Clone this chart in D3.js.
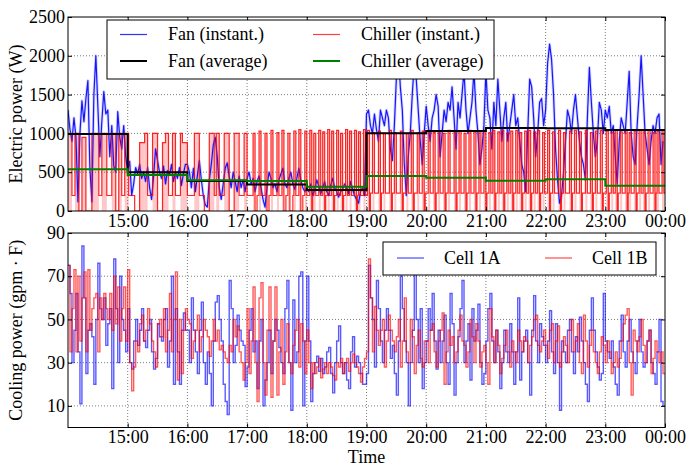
<!DOCTYPE html>
<html>
<head>
<meta charset="utf-8">
<script src="https://cdn.jsdelivr.net/npm/d3@7"></script>
<style>
  body { margin: 0; background: #fff; }
  svg text { font-family: "Liberation Serif", "Times New Roman", serif; fill: #000; }
</style>
</head>
<body>
<svg id="chart" width="691" height="466"></svg>
<script>
// ---------- data ----------
// Hour marks shown on the time axis (24 = midnight)
const tickHours = [15, 16, 17, 18, 19, 20, 21, 22, 23, 24];
const powerTicks = [0, 500, 1000, 1500, 2000, 2500];
const coolingTicks = [10, 30, 50, 70, 90];

// Sample spacing (minutes) of the instantaneous series, counted from 14:00
const sampleStep = 2;

// Fan instantaneous electric power (W), one value every 2 minutes
const fanInstant = [
  1300,1050,900,1200,950,120,1000,1420,1150,1450,1680,550,120,1500,2000,1350,700,1150,1540,1250,1300,700,1100,580,500,1280,950,800,1100,700,
  520,640,200,350,560,480,600,420,500,380,560,300,150,450,800,650,500,420,580,350,520,460,600,380,500,420,560,330,480,600,
  600,500,300,550,250,450,650,400,200,80,50,400,600,850,950,700,300,150,350,550,620,450,300,500,380,250,450,300,400,250,
  420,500,350,420,250,380,450,300,150,50,300,500,420,300,350,250,400,480,550,350,300,420,500,350,280,420,550,400,300,250,
  300,250,350,200,280,400,320,220,300,380,250,200,330,420,300,250,180,250,280,350,300,220,380,280,200,150,100,250,300,200,
  1250,1300,1100,1000,1250,1050,900,1300,1200,1100,1300,1200,800,650,1100,1700,2050,1600,1300,600,200,700,1000,1500,1900,1700,1300,900,600,1000,
  1350,1100,900,1200,1300,1500,1350,700,1000,1300,1150,1400,1300,1600,1200,800,1400,1200,1500,1800,1300,1000,1200,1400,1800,1300,1000,600,800,1100,
  1800,1300,1200,800,1400,1100,1700,1300,900,1200,1400,900,1100,1300,1500,1100,1200,900,600,500,250,1000,1700,1600,1200,700,1000,1400,1450,1100,
  1300,1900,2150,1950,1500,800,400,100,200,500,900,1300,1200,1000,1300,1500,1200,900,700,600,400,1200,1850,1400,1000,700,900,1400,1300,1000,
  1300,1200,1350,1000,1100,700,350,900,1200,1100,1000,1400,1800,1000,700,600,1100,1500,2000,1500,1000,800,600,900,1100,1000,1200,1250,600,900
];

// Chiller instantaneous power (W): [minute after 14:00, level held from that minute]
const chillerSteps = [
  [0,1000],[4,200],[7,1000],[11,0],[14,950],[18,0],[24,1000],[31,200],[34,1000],[39,200],[44,1000],[48,0],[51,1000],[54,200],[57,1000],
  [61,200],[67,0],[72,880],[77,1000],[80,200],[85,1000],[90,0],[95,880],[98,1000],[101,200],[105,1000],[108,200],[113,1000],[115,880],
  [120,200],[127,1000],[132,200],[137,0],[142,1000],[147,200],[149,1000],[152,200],[157,1000],[162,0],[167,1000],[172,200],[177,1000],
  [180,200],[186,1000],[188,0],[190,200],[192,1030],[194,200],[198,1000],[200,0],[202,200],[204,1040],[206,200],[210,1010],[212,200],[215,1040],[217,0],[219,200],[221,1000],[223,0],[226,200],[227,1030],[229,200],[232,1050],[234,0],[236,200],
  [238,1030],[240,200],[243,1040],[245,0],[246,200],[247,1000],[249,200],[252,1040],[254,200],[256,1020],[258,0],[259,200],[261,1050],[263,200],[265,1030],[267,0],[268,200],[270,1040],[272,200],[274,1000],[276,0],[277,200],[279,1050],[281,200],[283,1030],[285,200],[288,1040],[290,0],[291,200],[292,1020],[294,200],[297,1050],[299,200],
  [301,1040],[303,0],[304,230],[306,1010],[308,230],[312,1030],[314,0],[315,230],[317,1000],[319,230],[323,1040],[325,0],[326,230],[328,1010],[330,230],[334,1030],[336,0],[337,230],[340,1000],[342,230],[345,1040],[347,0],[348,230],[351,1010],[353,230],[356,1030],[358,0],[359,230],
  [362,1040],[364,230],[367,1010],[369,0],[370,230],[372,1030],[374,230],[377,1000],[379,0],[380,230],[382,1040],[384,230],[388,1010],[390,0],[391,230],[393,1030],[395,230],[398,1000],[400,0],[401,230],[403,1040],[405,230],[408,1020],[410,0],[411,230],[413,1030],[415,230],[418,1040],
  [420,0],[421,230],[423,1010],[425,230],[427,1040],[429,0],[430,230],[432,1020],[434,230],[436,1040],[438,0],[439,230],[441,1000],[443,230],[445,1030],[447,0],[448,230],[450,1040],[452,230],[454,1010],[456,0],[457,230],[459,1030],[461,230],[463,1040],[465,0],[466,230],[468,1020],[470,230],[472,1040],[474,0],[475,230],[477,1010],[479,230],
  [482,1040],[484,0],[485,230],[487,1020],[489,230],[493,1040],[495,0],[496,230],[498,1010],[500,230],[504,1030],[506,0],[507,230],[509,1040],[511,230],[514,1020],[516,0],[517,230],[520,1040],[522,230],[525,1010],[527,0],[528,230],[530,1030],[532,230],[535,1040],[537,0],[538,230],
  [541,1030],[543,0],[544,230],[546,1010],[548,230],[550,1040],[552,0],[553,230],[555,1020],[557,230],[560,1040],[562,0],[563,230],[564,1010],[566,230],[569,1030],[571,0],[572,230],[574,1040],[576,230],[578,1020],[580,0],[581,230],[583,1040],[585,230],[588,1010],[590,0],[591,230],[592,1030],[594,230],[597,1040],[599,230]
];

// Hourly averages (W), 14:00–15:00 through 23:00–24:00
const fanAverage = [992, 498, 385, 340, 271, 1001, 1031, 1068, 1065, 1043];
const chillerAverage = [537, 465, 395, 385, 313, 451, 430, 391, 408, 326];

// Cooling power (gpm · F), one value every 2 minutes
const cell1A = [
  75,62,30,45,62,35,11,84,60,25,45,48,42,20,50,76,55,50,60,38,48,55,18,78,55,30,70,50,45,35,
  55,30,27,40,50,38,45,55,40,37,45,50,35,27,32,48,42,40,50,55,28,40,70,20,55,35,20,45,53,45,
  45,30,60,45,35,25,45,58,30,20,35,25,10,40,58,61,50,40,20,12,6,68,55,30,38,52,45,40,38,19,
  28,45,55,35,40,18,40,50,10,22,30,45,25,40,50,45,37,30,25,55,68,30,8,59,30,35,70,72,10,40,
  70,40,12,25,30,33,26,32,25,28,35,37,25,16,30,40,47,30,25,30,22,18,35,42,28,33,30,25,20,20,
  25,75,60,50,28,68,55,40,30,45,55,45,32,38,25,15,40,70,55,40,30,10,30,45,72,50,30,55,18,30,
  40,55,45,62,40,27,45,30,40,52,30,20,62,48,15,30,42,55,68,30,40,48,22,55,40,45,57,30,20,25,
  40,55,62,40,30,45,35,18,30,45,35,30,48,35,20,35,60,22,35,40,45,30,15,45,61,40,30,48,42,38,
  30,40,54,35,25,48,30,8,40,35,30,45,50,35,25,42,35,51,40,30,20,12,45,60,45,35,28,22,25,62,
  40,35,32,40,28,20,15,40,52,35,28,40,50,35,30,25,40,50,35,28,30,40,45,30,25,20,35,50,12,10
];
const cell1B = [
  75,35,55,73,35,70,40,60,72,35,73,45,55,60,62,35,60,50,62,55,50,62,45,70,48,65,40,55,65,40,
  73,30,17,28,40,35,48,52,40,45,55,48,40,35,28,48,50,42,55,35,45,62,35,50,72,22,50,25,45,55,
  50,48,32,40,45,52,35,42,50,45,42,33,40,50,40,45,36,38,35,32,30,38,35,50,42,47,35,30,22,30,
  55,25,40,65,30,12,60,67,30,15,45,65,14,40,65,15,35,50,20,35,48,30,25,38,45,50,28,48,40,25,
  45,30,18,30,25,28,32,23,27,30,25,30,28,24,22,30,28,32,25,30,32,26,30,34,30,28,25,21,28,32,
  35,78,60,35,56,45,38,45,50,28,40,52,45,40,35,42,50,28,40,60,35,30,50,42,25,38,45,32,28,40,
  40,30,45,48,35,28,40,45,53,20,35,45,38,42,30,35,45,52,40,38,28,35,50,42,30,48,40,28,35,38,
  30,20,55,42,30,45,38,25,32,38,45,35,28,40,35,30,45,40,35,42,40,30,38,42,50,52,38,35,40,45,
  38,32,45,48,30,40,47,28,35,42,38,30,45,50,35,40,48,30,25,52,40,28,38,45,35,30,25,35,42,38,
  30,40,35,25,30,35,28,32,40,48,52,55,30,15,45,40,35,42,50,38,30,40,45,25,32,40,35,30,35,25
];

// ---------- scales ----------
const base = new Date(2000, 0, 1, 14, 0, 0);
const t = m => new Date(base.getTime() + m * 60000);
const END = 600;

const svg = d3.select("#chart");
const X0 = 68, X1 = 665;
const P1 = { top: 17, bottom: 211 };
const P2 = { top: 233, bottom: 427.5 };

const x = d3.scaleTime().domain([t(0), t(END)]).range([X0, X1]);
const yP = d3.scaleLinear().domain([0, 2500]).range([P1.bottom, P1.top]);
const yC = d3.scaleLinear().domain([0, 90]).range([P2.bottom, P2.top]);
const hourDates = tickHours.map(h => t((h - 14) * 60));
const fmt = d3.timeFormat("%H:%M");

const FONT = "Liberation Serif, Times New Roman, serif";
const C = {
  fan: "#0000ff", chiller: "#ff0000", fanAvg: "#000000", chillerAvg: "#008000",
  cellA: "#0000ff", cellB: "#ff0000"
};

// ---------- panel scaffolding ----------
function grid(p, y, yTicks) {
  const g = svg.append("g")
    .attr("stroke", "#333").attr("stroke-width", 0.8)
    .attr("stroke-dasharray", "1,2").attr("opacity", 0.8);
  g.selectAll(null).data(hourDates.slice(0, -1)).join("line")
    .attr("x1", d => x(d)).attr("x2", d => x(d))
    .attr("y1", p.top).attr("y2", p.bottom);
  g.selectAll(null).data(yTicks.filter(v => y(v) > p.top + 1 && y(v) < p.bottom - 1)).join("line")
    .attr("x1", X0).attr("x2", X1)
    .attr("y1", d => y(d)).attr("y2", d => y(d));
}

function axes(p, y, yTicks, pad) {
  const style = g => {
    g.select(".domain").remove();
    g.attr("font-family", FONT).attr("font-size", 18);
    g.selectAll("line").attr("stroke", "#000");
  };
  svg.append("g").attr("transform", `translate(0,${p.bottom})`)
    .call(d3.axisBottom(x).tickValues(hourDates).tickFormat(fmt).tickSize(-4).tickPadding(pad))
    .call(style);
  svg.append("g").attr("transform", `translate(0,${p.top})`)
    .call(d3.axisTop(x).tickValues(hourDates).tickFormat("").tickSize(-4))
    .call(style);
  svg.append("g").attr("transform", `translate(${X0},0)`)
    .call(d3.axisLeft(y).tickValues(yTicks).tickFormat(d3.format("d")).tickSize(-4).tickPadding(3))
    .call(style);
  svg.append("g").attr("transform", `translate(${X1},0)`)
    .call(d3.axisRight(y).tickValues(yTicks).tickFormat("").tickSize(-4))
    .call(style);
  svg.append("rect")
    .attr("x", X0).attr("y", p.top)
    .attr("width", X1 - X0).attr("height", p.bottom - p.top)
    .attr("fill", "none").attr("stroke", "#000").attr("stroke-width", 1);
}

function clip(id, p) {
  svg.append("clipPath").attr("id", id).append("rect")
    .attr("x", X0).attr("y", p.top)
    .attr("width", X1 - X0).attr("height", p.bottom - p.top);
  return svg.append("g").attr("clip-path", `url(#${id})`);
}

// ---------- top panel: electric power ----------
grid(P1, yP, powerTicks);
const topG = clip("clipTop", P1);

const fanPts = fanInstant.map((v, i) => [t(i * sampleStep), v]);
const lineP = d3.line().x(d => x(d[0])).y(d => yP(d[1]));

// chiller on-periods: light fill between the rising and falling edges
const chillerSeg = chillerSteps.map((s, i) => ({
  start: s[0],
  end: i + 1 < chillerSteps.length ? chillerSteps[i + 1][0] : END,
  w: s[1]
}));
topG.append("g").selectAll("rect")
  .data(chillerSeg.filter(s => s.w >= 800))
  .join("rect")
  .attr("x", d => x(t(d.start)))
  .attr("width", d => x(t(d.end)) - x(t(d.start)))
  .attr("y", d => yP(d.w))
  .attr("height", d => yP(0) - yP(d.w))
  .attr("fill", "#ff0000").attr("opacity", 0.22);

// fan instantaneous (soft halo + line)
topG.append("path").datum(fanPts)
  .attr("d", lineP).attr("fill", "none")
  .attr("stroke", "#7777ff").attr("stroke-width", 3).attr("opacity", 0.3)
  .attr("stroke-linejoin", "round");
topG.append("path").datum(fanPts)
  .attr("d", lineP).attr("fill", "none")
  .attr("stroke", C.fan).attr("stroke-width", 1.2).attr("opacity", 0.9)
  .attr("stroke-linejoin", "round");

// chiller instantaneous (step)
const chillerPts = chillerSteps.map(s => [t(s[0]), s[1]]);
chillerPts.push([t(END), chillerSteps[chillerSteps.length - 1][1]]);
topG.append("path").datum(chillerPts)
  .attr("d", d3.line().curve(d3.curveStepAfter).x(d => x(d[0])).y(d => yP(d[1])))
  .attr("fill", "none").attr("stroke", C.chiller).attr("stroke-width", 1.2).attr("opacity", 0.85);

// hourly averages
function hourly(vals) {
  const pts = vals.map((v, i) => [t(i * 60), v]);
  pts.push([t(END), vals[vals.length - 1]]);
  return pts;
}
const stepP = d3.line().curve(d3.curveStepAfter).x(d => x(d[0])).y(d => yP(d[1]));
topG.append("path").datum(hourly(fanAverage))
  .attr("d", stepP).attr("fill", "none").attr("stroke", C.fanAvg).attr("stroke-width", 2);
topG.append("path").datum(hourly(chillerAverage))
  .attr("d", stepP).attr("fill", "none").attr("stroke", C.chillerAvg).attr("stroke-width", 2);

axes(P1, yP, powerTicks, 3.5);

// ---------- bottom panel: cooling power ----------
grid(P2, yC, coolingTicks);
const botG = clip("clipBot", P2);
const stepC = d3.line().curve(d3.curveStepAfter).x(d => x(d[0])).y(d => yC(d[1]));
function cellPts(vals) {
  const pts = vals.map((v, i) => [t(i * sampleStep), v]);
  pts.push([t(END), vals[vals.length - 1]]);
  return pts;
}
botG.append("path").datum(cellPts(cell1A))
  .attr("d", stepC).attr("fill", "none")
  .attr("stroke", C.cellA).attr("stroke-width", 1.4).attr("opacity", 0.65);
botG.append("path").datum(cellPts(cell1B))
  .attr("d", stepC).attr("fill", "none")
  .attr("stroke", C.cellB).attr("stroke-width", 1.4).attr("opacity", 0.65);

axes(P2, yC, coolingTicks, 3);

// ---------- axis titles ----------
svg.append("text")
  .attr("transform", `translate(22,${(P1.top + P1.bottom) / 2}) rotate(-90)`)
  .attr("text-anchor", "middle").attr("font-size", 18)
  .text("Electric power (W)");
svg.append("text")
  .attr("transform", `translate(22,${(P2.top + P2.bottom) / 2}) rotate(-90)`)
  .attr("text-anchor", "middle").attr("font-size", 18)
  .text("Cooling power (gpm \u00b7 F)");
svg.append("text")
  .attr("x", (X0 + X1) / 2).attr("y", 463)
  .attr("text-anchor", "middle").attr("font-size", 18)
  .text("Time");

// ---------- legends ----------
function legend(box, items) {
  const g = svg.append("g");
  g.append("rect")
    .attr("x", box.x).attr("y", box.y).attr("width", box.w).attr("height", box.h)
    .attr("fill", "#fff").attr("stroke", "#000").attr("stroke-width", 1);
  const it = g.selectAll("g.item").data(items).join("g");
  it.append("line")
    .attr("x1", d => d.lx).attr("x2", d => d.lx + 27)
    .attr("y1", d => d.y).attr("y2", d => d.y)
    .attr("stroke", d => d.color).attr("stroke-width", d => d.width)
    .attr("opacity", d => d.opacity);
  it.append("text")
    .attr("x", d => d.tx).attr("y", d => d.y).attr("dy", "0.33em")
    .attr("font-size", 18)
    .text(d => d.label);
}
legend({ x: 107, y: 20, w: 387, h: 59 }, [
  { label: "Fan (instant.)", color: C.fan, width: 1.2, opacity: 0.8, lx: 120, tx: 168, y: 34.5 },
  { label: "Fan (average)", color: C.fanAvg, width: 2, opacity: 1, lx: 120, tx: 168, y: 61 },
  { label: "Chiller (instant.)", color: C.chiller, width: 1.2, opacity: 0.75, lx: 313, tx: 361, y: 34.5 },
  { label: "Chiller (average)", color: C.chillerAvg, width: 2, opacity: 1, lx: 313, tx: 361, y: 61 }
]);
legend({ x: 383, y: 242, w: 273, h: 33 }, [
  { label: "Cell 1A", color: C.cellA, width: 1.4, opacity: 0.6, lx: 397, tx: 444, y: 258 },
  { label: "Cell 1B", color: C.cellB, width: 1.4, opacity: 0.6, lx: 545, tx: 592, y: 258 }
]);
</script>
</body>
</html>
